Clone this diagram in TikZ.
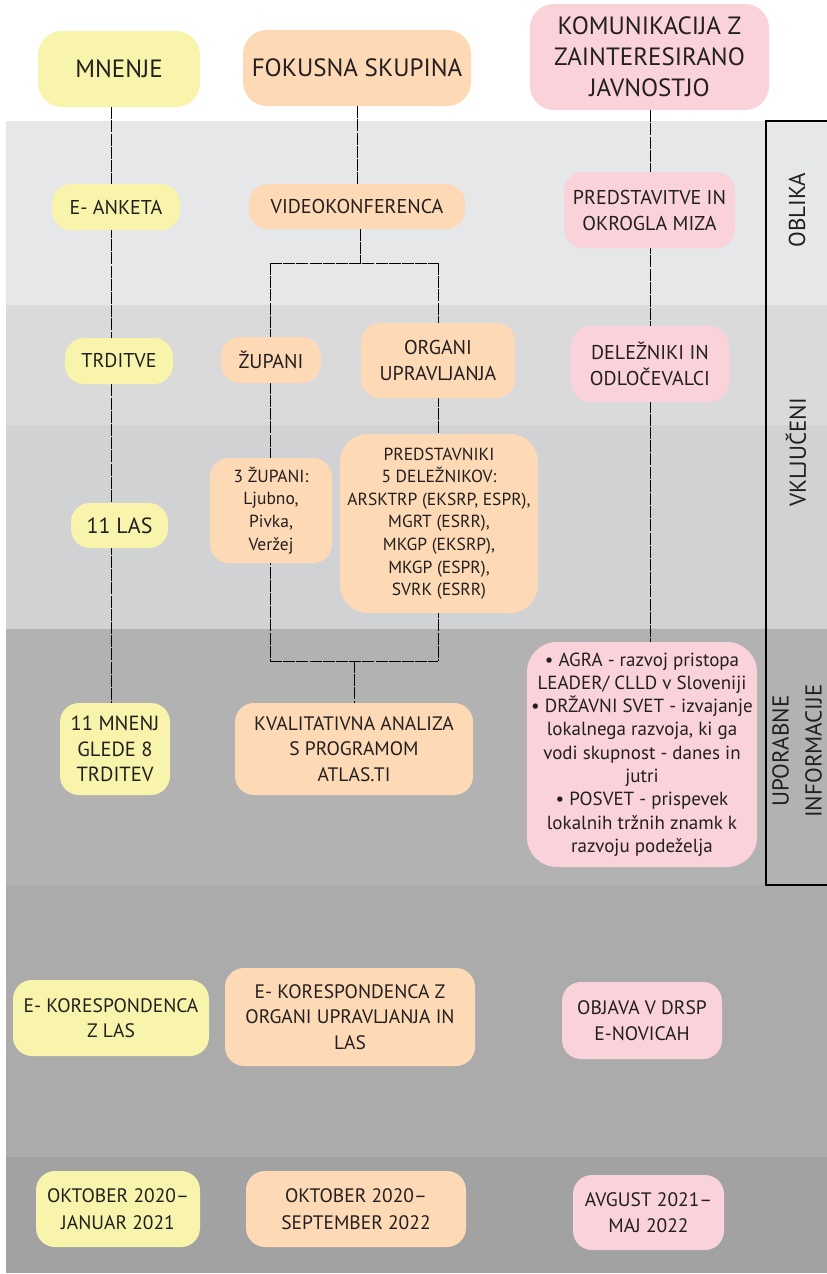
\documentclass[tikz,border=0pt]{standalone}
\usepackage{fontspec}
\setmainfont{PT Sans}
\definecolor{ylw}{HTML}{F8F4AB}
\definecolor{orn}{HTML}{FDD9B6}
\definecolor{pnk}{HTML}{F9D2DA}
\definecolor{bandA}{HTML}{E6E7E8}
\definecolor{bandB}{HTML}{DADADB}
\definecolor{bandC}{HTML}{D1D2D3}
\definecolor{bandD}{HTML}{B2B2B2}
\definecolor{bandE}{HTML}{ABABAB}
\definecolor{bandF}{HTML}{A2A2A2}
\definecolor{ink}{HTML}{231F20}
\tikzset{
  boxbase/.style={rounded corners=19pt, draw=none, align=center, inner sep=1pt, text=ink},
  ybox/.style={boxbase, fill=ylw},
  obox/.style={boxbase, fill=orn},
  pbox/.style={boxbase, fill=pnk},
  fhdr/.style={font=\fontsize{25}{31}\selectfont, rounded corners=24pt},
  fmid/.style={font=\fontsize{20}{26}\selectfont},
  fsml/.style={font=\fontsize{17.5}{22.6}\selectfont},
  fbig/.style={font=\fontsize{19}{23.3}\selectfont},
  conn/.style={draw=black, line width=0.8pt, dash pattern=on 12pt off 1.2pt},
  sidelab/.style={font=\fontsize{23}{33}\selectfont, align=center, rotate=90, text=ink},
}
\begin{document}
\begin{tikzpicture}[x=1pt, y=-1pt]
\useasboundingbox (0,0) rectangle (827,1274);
% bands
\fill[bandA] (6,121) rectangle (827,305);
\fill[bandB] (6,305) rectangle (827,425);
\fill[bandC] (6,425) rectangle (827,629);
\fill[bandD] (6,629) rectangle (827,885);
\fill[bandE] (6,885) rectangle (827,1157);
\fill[bandF] (6,1157) rectangle (827,1273);
% side box
\draw[line width=2pt, draw=black] (830,121) -- (766,121) -- (766,885) -- (830,885);
\node[sidelab] (oblika) at (797,210) {OBLIKA};
\node[sidelab] (vkljuceni) at (796,452) {VKLJUČENI};
\node[sidelab] (uporabne) at (797,751) {UPORABNE\\INFORMACIJE};
% column coordinates
\coordinate (c1) at (111,0);
\coordinate (c3) at (650,0);
\coordinate (bTL) at (270,263);
\coordinate (bTR) at (438,263);
\coordinate (bBL) at (270,661);
\coordinate (bBR) at (438,661);
% headers
\node[ybox, fhdr, minimum width=162pt, minimum height=76pt] (mnenje) at (119,69) {MNENJE};
\node[obox, fhdr, minimum width=228pt, minimum height=76pt] (fokusna) at (357,68) {FOKUSNA SKUPINA};
\node[pbox, fhdr, minimum width=239pt, minimum height=106pt] (komun) at (649.5,57) {KOMUNIKACIJA Z\\ZAINTERESIRANO\\JAVNOSTJO};
% connectors (drawn before the boxes they pass behind)
\draw[conn] (mnenje.south -| c1) -- (c1 |- 0,703);
\draw[conn] (fokusna.south) -- (fokusna.south |- 0,184);
\draw[conn] (360,229) -- (360,263);
\draw[conn] (bTL) -- (bTR);
\draw[conn] (bTL) -- (bBL);
\draw[conn] (bTR) -- (bBR);
\draw[conn] (bBL) -- (bBR);
\draw[conn] (354,661) -- (354,703);
\draw[conn] (komun.south -| c3) -- (c3 |- 0,642);
% row 1
\node[ybox, fmid, minimum width=128pt, minimum height=46pt] (eanketa) at (116,207) {E- ANKETA};
\node[obox, fmid, minimum width=216pt, minimum height=45pt] (video) at (357,206.5) {VIDEOKONFERENCA};
\node[pbox, fmid, minimum width=171pt, minimum height=76pt] (predstavitve) at (649.5,210) {PREDSTAVITVE IN\\OKROGLA MIZA};
% row 2
\node[ybox, fmid, minimum width=108pt, minimum height=46pt] (trditve) at (119,361) {TRDITVE};
\node[obox, fmid, minimum width=100pt, minimum height=46pt] (zupani) at (271,360) {ŽUPANI};
\node[obox, fmid, minimum width=154pt, minimum height=75pt] (organi) at (438,360.5) {ORGANI\\UPRAVLJANJA};
\node[pbox, fmid, minimum width=158pt, minimum height=76pt] (delezniki) at (650,364) {DELEŽNIKI IN\\ODLOČEVALCI};
% row 3
\node[ybox, font=\fontsize{22}{26}\selectfont, minimum width=97pt, minimum height=45pt] (las11) at (119.5,525.5) {11 LAS};
\node[obox, fsml, minimum width=122pt, minimum height=105pt] (zupani3) at (271,510.5) {3 ŽUPANI:\\Ljubno,\\Pivka,\\Veržej};
\node[obox, fsml, minimum width=198pt, minimum height=179pt, rounded corners=28pt] (predstavniki) at (439,523.5) {PREDSTAVNIKI\\5 DELEŽNIKOV:\\ARSKTRP (EKSRP, ESPR),\\MGRT (ESRR),\\MKGP (EKSRP),\\MKGP (ESPR),\\SVRK (ESRR)};
% row 4
\node[ybox, font=\fontsize{20.5}{25.5}\selectfont, minimum width=110pt, minimum height=92pt] (mnenj11) at (115,749) {11 MNENJ\\GLEDE 8\\TRDITEV};
\node[obox, font=\fontsize{19.5}{25.5}\selectfont, minimum width=238pt, minimum height=92pt] (kvalit) at (354,749) {KVALITATIVNA ANALIZA\\S PROGRAMOM\\ATLAS.TI};
\node[pbox, fbig, minimum width=230pt, minimum height=225pt, rounded corners=30pt] (pinkbig) at (642,754.5) {• AGRA - razvoj pristopa\\LEADER/ CLLD v Sloveniji\\• DRŽAVNI SVET - izvajanje\\lokalnega razvoja, ki ga\\vodi skupnost - danes in\\jutri\\• POSVET - prispevek\\lokalnih tržnih znamk k\\razvoju podeželja};
% row 5
\node[ybox, font=\fontsize{19.5}{25.5}\selectfont, minimum width=196pt, minimum height=76pt] (ekorlas) at (111,1018) {E- KORESPONDENCA\\Z LAS};
\node[obox, font=\fontsize{19.5}{25.5}\selectfont, minimum width=250pt, minimum height=98pt] (ekororg) at (350,1017) {E- KORESPONDENCA Z\\ORGANI UPRAVLJANJA IN\\LAS};
\node[pbox, font=\fontsize{19.5}{25.5}\selectfont, minimum width=160pt, minimum height=77pt] (objava) at (642,1020.5) {OBJAVA V DRSP\\E-NOVICAH};
% row 6
\node[ybox, font=\fontsize{19.5}{26.5}\selectfont, minimum width=164pt, minimum height=76pt] (okt1) at (118,1209) {OKTOBER 2020–\\JANUAR 2021};
\node[obox, font=\fontsize{19.5}{26.5}\selectfont, minimum width=220pt, minimum height=76pt] (okt2) at (356,1209) {OKTOBER 2020–\\SEPTEMBER 2022};
\node[pbox, font=\fontsize{19.5}{26.5}\selectfont, minimum width=151pt, minimum height=75pt] (avgust) at (648.5,1212.5) {AVGUST 2021–\\MAJ 2022};
\end{tikzpicture}
\end{document}
